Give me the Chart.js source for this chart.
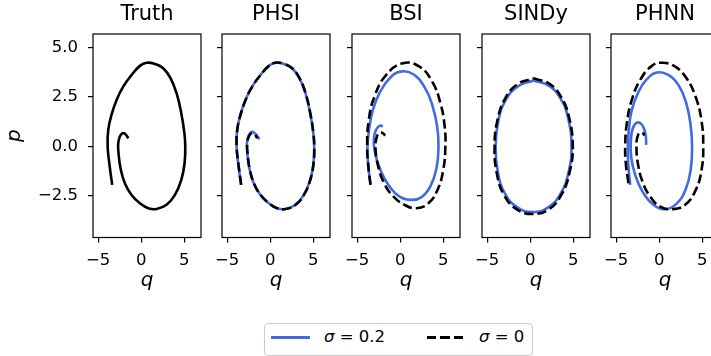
<!DOCTYPE html>
<html>
<head>
<meta charset="utf-8">
<script src="https://cdn.jsdelivr.net/npm/chart.js@4.4.1/dist/chart.umd.min.js"></script>
<style>
  html, body { margin: 0; padding: 0; background: #fff; overflow: hidden; }
  #wrap { position: relative; width: 711px; height: 356px; overflow: hidden; background: #fff; }
  #wrap canvas { position: absolute; top: 0; }
  .leg-box { position: absolute; left: 264px; top: 323px; width: 267px; height: 31px; border: 1px solid #cccccc; border-radius: 4px; background: #fff; }
  .leg-line { position: absolute; height: 2.6px; }
  .leg-text { position: absolute; font-family: "DejaVu Sans"; font-size: 16.5px; line-height: 20px; color: #000; white-space: pre; }
</style>
</head>
<body>
<div id="wrap"></div>
<script>
const titles = ['Truth', 'PHSI', 'BSI', 'SINDy', 'PHNN'];
const seriesNames = ['σ = 0.2', 'σ = 0'];
const xTicks = [-5, 0, 5];
const xTickLabels = ['−5', '0', '5'];
const yTicks = [-2.5, 0, 2.5, 5];
const yTickLabels = ['−2.5', '0.0', '2.5', '5.0'];

// (q, p) trajectories
const truth = [[-3.37,-1.94],[-3.66,-1.0],[-3.9,0.0],[-3.83,0.83],[-3.45,1.59],[-2.86,2.35],[-2.09,3.02],[-1.12,3.61],[-0.15,4.07],[0.62,4.23],[1.59,4.17],[2.56,3.95],[3.42,3.44],[4.11,2.69],[4.66,1.68],[5.02,0.67],[5.12,0.0],[5.04,-0.85],[4.66,-1.69],[3.92,-2.45],[2.95,-2.95],[1.79,-3.16],[0.82,-3.12],[-0.15,-2.87],[-1.12,-2.45],[-1.9,-1.86],[-2.4,-1.1],[-2.63,-0.35],[-2.67,0.16],[-2.48,0.5],[-2.17,0.67],[-1.86,0.63],[-1.62,0.5],[-1.51,0.41]];

const phsiNoisy = [[-3.39,-1.94],[-3.67,-1.0],[-3.91,0.0],[-3.84,0.83],[-3.46,1.59],[-2.87,2.35],[-2.1,3.02],[-1.13,3.61],[-0.16,4.07],[0.6,4.23],[1.58,4.17],[2.55,3.95],[3.41,3.44],[4.1,2.69],[4.65,1.68],[5.01,0.67],[5.11,0.0],[5.03,-0.85],[4.65,-1.69],[3.91,-2.45],[2.94,-2.95],[1.78,-3.16],[0.81,-3.12],[-0.16,-2.87],[-1.13,-2.45],[-1.91,-1.86],[-2.42,-1.1],[-2.66,-0.35],[-2.7,0.18],[-2.5,0.55],[-2.17,0.73],[-1.82,0.68],[-1.5,0.52],[-1.25,0.36]];
const phsiClean = [[-3.37,-1.94],[-3.66,-1.0],[-3.9,0.0],[-3.83,0.83],[-3.45,1.59],[-2.86,2.35],[-2.09,3.02],[-1.12,3.61],[-0.15,4.07],[0.62,4.23],[1.59,4.17],[2.56,3.95],[3.42,3.44],[4.11,2.69],[4.66,1.68],[5.02,0.67],[5.12,0.0],[5.04,-0.85],[4.66,-1.69],[3.92,-2.45],[2.95,-2.95],[1.79,-3.16],[0.82,-3.12],[-0.15,-2.87],[-1.12,-2.45],[-1.9,-1.86],[-2.4,-1.1],[-2.63,-0.35],[-2.67,0.16],[-2.48,0.5],[-2.17,0.67],[-1.86,0.63],[-1.62,0.5],[-1.51,0.41]];

const bsiNoisy = [[-3.45,-1.93],[-3.7,-1.0],[-3.8,0.0],[-3.57,1.0],[-3.18,1.84],[-2.41,2.69],[-1.24,3.44],[0.03,3.78],[1.47,3.66],[2.8,3.02],[3.72,2.1],[4.3,1.0],[4.45,0.0],[4.22,-1.1],[3.49,-2.03],[2.45,-2.57],[1.28,-2.7],[-0.08,-2.53],[-1.24,-2.03],[-2.22,-1.27],[-2.87,-0.43],[-3.07,0.16],[-2.95,0.67],[-2.6,0.97],[-2.25,1.05],[-2.02,1.0]];
const bsiClean = [[-3.45,-1.94],[-3.7,-1.02],[-3.84,0.0],[-3.65,1.34],[-2.99,2.52],[-1.63,3.61],[0.31,4.2],[2.24,4.03],[3.72,3.27],[4.68,2.18],[5.17,1.0],[5.25,0.0],[5.0,-1.19],[4.33,-2.2],[3.22,-2.9],[1.86,-3.12],[0.5,-2.95],[-0.86,-2.5],[-1.9,-1.83],[-2.6,-0.93],[-2.87,-0.09],[-2.76,0.41],[-2.41,0.7],[-2.02,0.67],[-1.75,0.55]];

const sindyNoisy = [[0.4,3.33],[2.25,3.05],[3.55,2.4],[4.4,1.45],[4.8,0.0],[4.45,-1.32],[3.55,-2.37],[2.1,-3.08],[0.3,-3.31],[-1.5,-3.08],[-2.95,-2.37],[-3.75,-1.32],[-4.02,0.0],[-3.7,1.3],[-2.82,2.36],[-1.4,3.05],[0.4,3.33]];
const sindyClean = [[0.39,3.44],[2.3,3.15],[3.62,2.48],[4.5,1.5],[4.95,0.0],[4.55,-1.36],[3.62,-2.45],[2.15,-3.18],[0.27,-3.41],[-1.55,-3.18],[-3.05,-2.45],[-3.88,-1.36],[-4.14,0.0],[-3.8,1.34],[-2.9,2.43],[-1.46,3.15],[0.39,3.44]];

const phnnNoisy = [[-3.37,-1.94],[-3.57,-1.02],[-3.64,0.0],[-3.49,1.0],[-3.18,1.84],[-2.48,2.69],[-1.51,3.36],[-0.27,3.73],[1.05,3.61],[2.3,3.06],[3.15,2.18],[3.65,1.09],[3.82,0.0],[3.66,-1.19],[3.05,-2.2],[2.0,-2.9],[0.7,-3.17],[-0.66,-2.95],[-1.94,-2.28],[-2.79,-1.44],[-3.26,-0.51],[-3.29,0.33],[-3.06,0.92],[-2.6,1.2],[-2.09,1.14],[-1.71,0.83],[-1.55,0.5],[-1.51,0.08]];
const phnnClean = [[-3.57,-1.86],[-3.88,-0.85],[-3.95,0.0],[-3.76,1.17],[-3.18,2.35],[-2.21,3.36],[-0.85,4.07],[0.39,4.23],[1.86,4.03],[3.18,3.44],[4.22,2.52],[4.9,1.34],[5.12,0.0],[4.92,-1.19],[4.25,-2.2],[3.02,-2.95],[1.55,-3.17],[0.12,-3.04],[-1.05,-2.53],[-1.94,-1.78],[-2.48,-0.85],[-2.64,0.0],[-2.52,0.5],[-2.21,0.7],[-1.9,0.67],[-1.71,0.55]];

const panels = [
  { title: titles[0], curves: [truth] },
  { title: titles[1], curves: [phsiNoisy, phsiClean] },
  { title: titles[2], curves: [bsiNoisy, bsiClean] },
  { title: titles[3], curves: [sindyNoisy, sindyClean] },
  { title: titles[4], curves: [phnnNoisy, phnnClean] },
];

const FONT = 'DejaVu Sans';
const panelLeft = [93, 222, 352, 482, 611];
const panelW = 108;
const plotBottom = 237.5;
const canvasH = 300;

// matplotlib-style box around each axes
const frame = {
  id: 'frame',
  afterDatasetsDraw(chart) {
    const { ctx, chartArea: a } = chart;
    ctx.save();
    ctx.strokeStyle = '#000';
    ctx.lineWidth = 1.2;
    ctx.strokeRect(a.left, a.top, a.right - a.left, a.bottom - a.top);
    ctx.restore();
  }
};

const toXY = arr => arr.map(([q, p]) => ({ x: q, y: p }));

const wrap = document.getElementById('wrap');

panels.forEach((panel, i) => {
  const margin = i === 0 ? 93 : 16;
  const rightPad = 4;
  const canvas = document.createElement('canvas');
  canvas.width = margin + panelW + rightPad;
  canvas.height = canvasH;
  canvas.style.left = (panelLeft[i] - margin) + 'px';
  canvas.style.width = canvas.width + 'px';
  canvas.style.height = canvas.height + 'px';
  wrap.appendChild(canvas);

  let datasets;
  if (i === 0) {
    datasets = [{ label: 'Truth', data: toXY(panel.curves[0]), borderColor: '#000', borderWidth: 2.6 }];
  } else {
    datasets = [
      { label: seriesNames[0], data: toXY(panel.curves[0]), borderColor: '#4169e1', borderWidth: 2.6, order: 1 },
      { label: seriesNames[1], data: toXY(panel.curves[1]), borderColor: '#000', borderWidth: 2.6, borderDash: [9.25, 4], order: 0 },
    ];
  }
  datasets.forEach(d => { d.showLine = true; d.pointRadius = 0; d.tension = 0.45; d.fill = false; });

  new Chart(canvas, {
    type: 'scatter',
    data: { datasets },
    plugins: [frame],
    options: {
      responsive: false,
      animation: false,
      events: [],
      layout: { padding: { left: 0, right: rightPad, top: 0, bottom: 0 } },
      plugins: {
        legend: { display: false },
        tooltip: { enabled: false },
        title: {
          display: true,
          text: panel.title,
          fullSize: false,
          color: '#000',
          font: { family: FONT, size: 21, weight: 'normal', lineHeight: 1.2 },
          padding: { top: 2, bottom: 6.8 }
        }
      },
      scales: {
        x: {
          type: 'linear',
          min: -5.6,
          max: 6.95,
          afterBuildTicks: s => { s.ticks = xTicks.map(v => ({ value: v })); },
          afterFit: s => { s.height = canvasH - plotBottom; },
          grid: { display: true, drawOnChartArea: false, drawTicks: true, tickLength: 5, color: '#000', lineWidth: 1.2 },
          border: { display: false },
          ticks: {
            color: '#000', padding: 8, maxRotation: 0, autoSkip: false,
            font: { family: FONT, size: 16.5 },
            callback: (v, idx) => xTickLabels[idx]
          },
          title: {
            display: true, text: 'q', color: '#000',
            font: { family: FONT, size: 20, style: 'italic', lineHeight: 1.2 },
            padding: { top: 0, bottom: 7.3 }
          }
        },
        y: {
          type: 'linear',
          min: -4.6,
          max: 5.68,
          afterBuildTicks: s => { s.ticks = yTicks.map(v => ({ value: v })); },
          afterFit: s => { s.width = margin; },
          grid: { display: true, drawOnChartArea: false, drawTicks: true, tickLength: 5, color: '#000', lineWidth: 1.2 },
          border: { display: false },
          ticks: {
            display: i === 0,
            color: '#000', padding: 10, autoSkip: false,
            font: { family: FONT, size: 16.5 },
            callback: (v, idx) => yTickLabels[idx]
          },
          title: {
            display: i === 0, text: 'p', color: '#000',
            font: { family: FONT, size: 20, style: 'italic', lineHeight: 1.2 },
            padding: { top: 2.7, bottom: 0 }
          }
        }
      }
    }
  });
});

// figure-level legend below the panels
const box = document.createElement('div');
box.className = 'leg-box';
wrap.appendChild(box);
const legendItems = [
  { name: seriesNames[0], line: 'background:#4169e1;', lineLeft: 271, lineW: 39, textLeft: 324 },
  { name: seriesNames[1], line: 'background:repeating-linear-gradient(to right,#000 0 9.25px,transparent 9.25px 13.25px);', lineLeft: 427, lineW: 36, textLeft: 479 },
];
legendItems.forEach(it => {
  const ln = document.createElement('div');
  ln.className = 'leg-line';
  ln.style.cssText = it.line + 'left:' + it.lineLeft + 'px;top:336px;width:' + it.lineW + 'px;';
  wrap.appendChild(ln);
  const tx = document.createElement('div');
  tx.className = 'leg-text';
  tx.style.left = it.textLeft + 'px';
  tx.style.top = '327px';
  tx.innerHTML = it.name.replace('σ', '<i>σ</i>');
  wrap.appendChild(tx);
});
</script>
</body>
</html>
